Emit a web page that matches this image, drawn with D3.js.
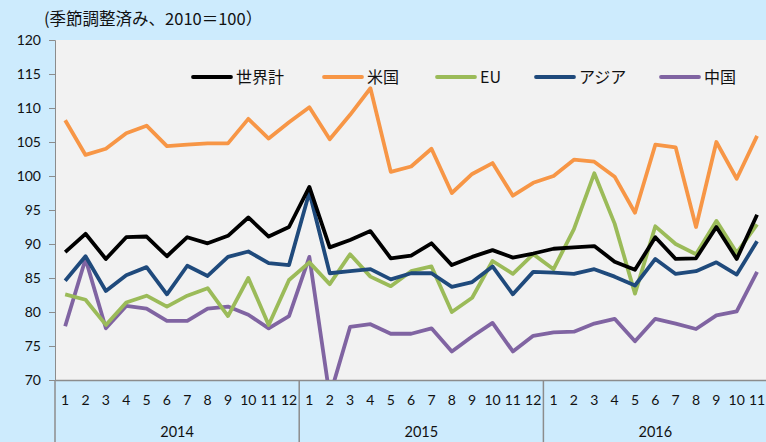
<!DOCTYPE html>
<html>
<head>
<meta charset="utf-8">
<script src="https://cdn.jsdelivr.net/npm/d3@7"></script>
<style>
  html, body { margin: 0; padding: 0; background: #cdebfd; }
  svg { display: block; font-family: Lato, "Noto Sans CJK JP", sans-serif; }
</style>
</head>
<body>
<svg id="chart"></svg>
<script>
// Data (monthly index, 2010 = 100)
const years = ['2014', '2015', '2016'];
const monthsPerYear = [12, 12, 11];
const seriesNames = ['世界計', '米国', 'EU', 'アジア', '中国'];
const world = [88.8, 91.5, 87.8, 91.0, 91.1, 88.2, 91.0, 90.1, 91.2, 93.9, 91.1, 92.5,
  98.4, 89.5, 90.6, 91.9, 87.9, 88.3, 90.1, 86.9, 88.1, 89.1, 88.0, 88.6,
  89.3, 89.5, 89.7, 87.4, 86.2, 91.0, 87.8, 87.9, 92.5, 87.8, 94.3];
const us = [108.2, 103.1, 104.0, 106.3, 107.4, 104.4, 104.6, 104.8, 104.8, 108.4, 105.5, 107.9,
  110.1, 105.4, 109.0, 112.9, 100.6, 101.4, 104.0, 97.5, 100.3, 101.9, 97.1, 99.0,
  100.0, 102.4, 102.1, 99.9, 94.6, 104.6, 104.2, 92.5, 105.0, 99.6, 105.9];
const eu = [82.6, 81.8, 78.1, 81.4, 82.4, 80.8, 82.4, 83.5, 79.4, 85.0, 78.1, 84.7,
  87.3, 84.1, 88.5, 85.2, 83.8, 86.0, 86.7, 80.0, 82.1, 87.5, 85.6, 88.5,
  86.3, 92.2, 100.4, 93.0, 82.7, 92.6, 90.0, 88.5, 93.4, 88.7, 92.9];
const asia = [84.6, 88.2, 83.1, 85.4, 86.6, 82.6, 86.8, 85.3, 88.1, 88.9, 87.2, 86.9,
  97.6, 85.7, 86.0, 86.3, 84.8, 85.7, 85.7, 83.7, 84.4, 86.7, 82.6, 85.9,
  85.8, 85.6, 86.3, 85.2, 83.9, 87.8, 85.6, 86.0, 87.3, 85.5, 90.4];
const china = [77.9, 87.8, 77.6, 80.9, 80.5, 78.7, 78.7, 80.5, 80.8, 79.6, 77.6, 79.4,
  88.1, 67.6, 77.8, 78.2, 76.8, 76.8, 77.6, 74.2, 76.4, 78.4, 74.2, 76.5,
  77.0, 77.1, 78.3, 79.0, 75.7, 79.0, 78.3, 77.5, 79.5, 80.1, 85.9];
const yTicks = [70, 75, 80, 85, 90, 95, 100, 105, 110, 115, 120];
const titleText = '(季節調整済み、2010＝100）';

const w = 766; // svg width
const h = 442; // svg height
const padLeft = 55; // y axis position
const plotTop = 40; // plot top
const plotBottom = 380; // plot bottom
const band = 20.35; // width of one month

const colors = ['#000000', '#f79646', '#9bbb59', '#1f4a7c', '#8064a2'];
const values = [world, us, eu, asia, china];

// one category per month
const cats = [];
years.forEach((y, i) => {
  for (let m = 1; m <= monthsPerYear[i]; m++) cats.push(y + '-' + m);
});

const xScale = d3.scaleBand().domain(cats).range([padLeft, padLeft + band * cats.length]);
const yScale = d3.scaleLinear().domain([70, 120]).range([plotBottom, plotTop]);
const xPos = (i) => xScale(cats[i]) + xScale.bandwidth() / 2;

const svg = d3.select('#chart').attr('width', w).attr('height', h);

svg.append('rect').attr('width', w).attr('height', h).attr('fill', '#cdebfd');

// plot area
svg.append('rect')
  .attr('x', padLeft).attr('y', plotTop)
  .attr('width', xScale.range()[1] - padLeft).attr('height', plotBottom - plotTop)
  .attr('fill', '#f2f2f2');

svg.append('clipPath').attr('id', 'plot-clip')
  .append('rect')
  .attr('x', padLeft).attr('y', plotTop)
  .attr('width', xScale.range()[1] - padLeft).attr('height', plotBottom - plotTop);

// title
svg.append('text')
  .attr('x', 44).attr('y', 25)
  .attr('font-family', '"Noto Sans CJK JP", sans-serif')
  .attr('font-size', 16.5)
  .attr('fill', '#111')
  .text(titleText);

// y axis
const yAxis = d3.axisLeft(yScale).tickValues(yTicks).tickSize(6).tickPadding(8);
const gy = svg.append('g')
  .attr('id', 'y-axis')
  .attr('transform', 'translate(' + padLeft + ', 0)')
  .call(yAxis);
gy.select('.domain').attr('stroke', '#8c8c8c');
gy.selectAll('.tick line').attr('stroke', '#8c8c8c');
gy.selectAll('.tick text').attr('font-size', 14).attr('fill', '#111').attr('font-family', 'Lato, sans-serif');

// x axis (month labels)
const xAxis = d3.axisBottom(xScale).tickSize(0).tickPadding(15)
  .tickFormat((d) => d.split('-')[1]);
const gx = svg.append('g')
  .attr('id', 'x-axis')
  .attr('transform', 'translate(0, ' + plotBottom + ')')
  .call(xAxis);
gx.select('.domain').attr('stroke', '#8c8c8c').attr('stroke-width', 1.5);
gx.selectAll('.tick text').attr('font-size', 14).attr('fill', '#111').attr('font-family', 'Lato, sans-serif');

// year group separators and labels
let start = 0;
years.forEach((y, i) => {
  const x0 = xScale(cats[start]);
  const x1 = xScale(cats[start + monthsPerYear[i] - 1]) + xScale.bandwidth();
  svg.append('line')
    .attr('x1', x0).attr('x2', x0)
    .attr('y1', plotBottom).attr('y2', h)
    .attr('stroke', '#8c8c8c').attr('stroke-width', 1.5);
  svg.append('text')
    .attr('x', (x0 + x1) / 2).attr('y', 437)
    .attr('text-anchor', 'middle')
    .attr('font-size', 14.5).attr('fill', '#111')
    .text(y);
  start += monthsPerYear[i];
});

// series lines
const line = d3.line().x((d, i) => xPos(i)).y((d) => yScale(d));
const gl = svg.append('g').attr('clip-path', 'url(#plot-clip)');
[4, 2, 3, 0, 1].forEach((k) => {
  gl.append('path')
    .datum(values[k])
    .attr('d', line)
    .attr('fill', 'none')
    .attr('stroke', colors[k])
    .attr('stroke-width', 3.8)
    .attr('stroke-linejoin', 'round');
});

// legend
const legendX = [193, 324, 437, 536, 661];
const legend = svg.append('g').attr('transform', 'translate(0, 77)');
seriesNames.forEach((name, k) => {
  legend.append('line')
    .attr('x1', legendX[k]).attr('x2', legendX[k] + 38)
    .attr('stroke', colors[k]).attr('stroke-width', 3.8)
    .attr('stroke-linecap', 'round');
  legend.append('text')
    .attr('x', legendX[k] + 43).attr('y', 6)
    .attr('font-family', '"Noto Sans CJK JP", sans-serif')
    .attr('font-size', 16).attr('fill', '#111')
    .text(name);
});
</script>
</body>
</html>
